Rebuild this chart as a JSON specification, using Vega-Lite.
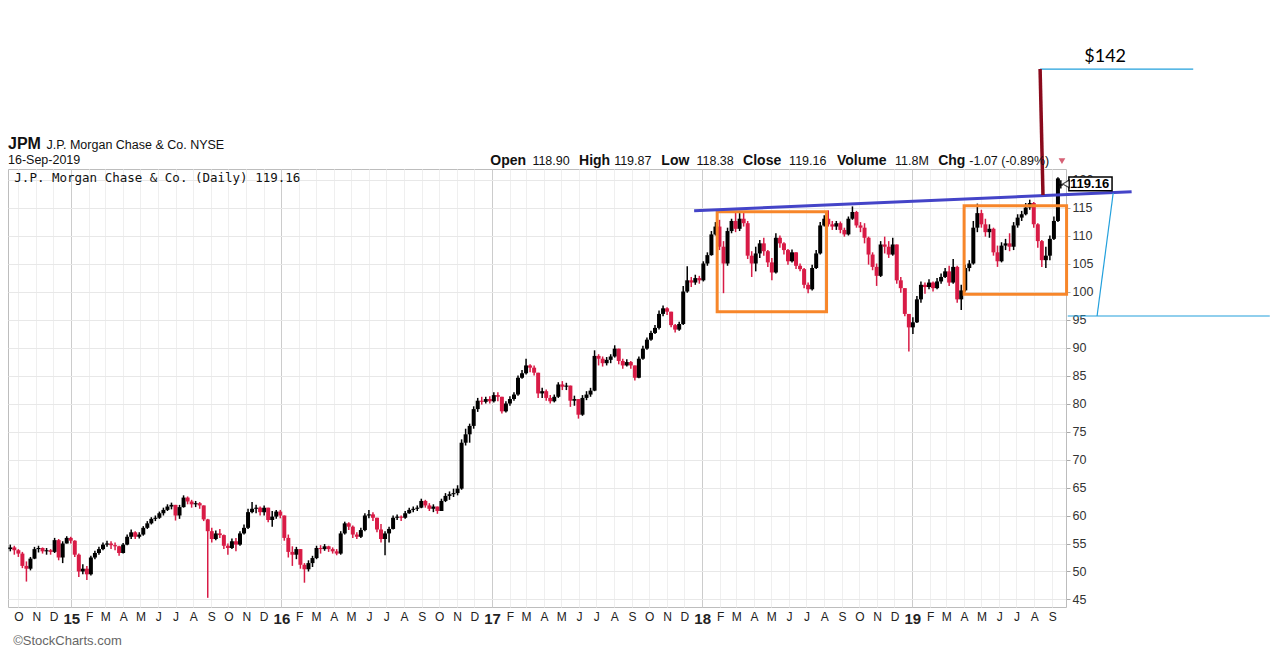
{
  "$schema": "https://vega.github.io/schema/vega-lite/v6.json",
  "width": 1058,
  "height": 438,
  "autosize": {"type": "none"},
  "padding": {"left": 8, "top": 169, "right": 208, "bottom": 56},
  "background": "white",
  "datasets": {
    "px": [
      {"d":"2014-09-17","o":54.0,"h":54.8,"l":53.6,"c":54.3},
      {"d":"2014-09-24","o":54.3,"h":54.6,"l":53.0,"c":53.8},
      {"d":"2014-10-01","o":53.8,"h":54.0,"l":52.6,"c":53.2},
      {"d":"2014-10-08","o":53.2,"h":53.5,"l":50.6,"c":51.0},
      {"d":"2014-10-15","o":51.0,"h":51.8,"l":48.2,"c":50.5},
      {"d":"2014-10-22","o":50.5,"h":52.6,"l":50.2,"c":52.3},
      {"d":"2014-10-29","o":52.3,"h":54.4,"l":52.2,"c":54.0},
      {"d":"2014-11-05","o":54.0,"h":54.6,"l":53.4,"c":54.2},
      {"d":"2014-11-12","o":54.2,"h":54.3,"l":53.2,"c":53.6},
      {"d":"2014-11-19","o":53.6,"h":54.2,"l":53.0,"c":53.8},
      {"d":"2014-11-26","o":53.8,"h":54.0,"l":53.0,"c":53.5},
      {"d":"2014-12-03","o":53.5,"h":56.0,"l":53.3,"c":55.6},
      {"d":"2014-12-10","o":55.6,"h":55.8,"l":52.0,"c":52.5},
      {"d":"2014-12-17","o":52.5,"h":55.4,"l":51.5,"c":55.0},
      {"d":"2014-12-24","o":55.0,"h":56.3,"l":55.0,"c":56.0},
      {"d":"2014-12-31","o":56.0,"h":56.2,"l":55.0,"c":55.5},
      {"d":"2015-01-07","o":55.5,"h":55.6,"l":52.6,"c":53.0},
      {"d":"2015-01-14","o":53.0,"h":53.2,"l":49.0,"c":50.0},
      {"d":"2015-01-21","o":50.0,"h":51.3,"l":49.5,"c":50.5},
      {"d":"2015-01-28","o":50.5,"h":51.0,"l":48.5,"c":49.5},
      {"d":"2015-02-04","o":49.5,"h":52.8,"l":49.3,"c":52.5},
      {"d":"2015-02-11","o":52.5,"h":53.7,"l":52.2,"c":53.3},
      {"d":"2015-02-18","o":53.3,"h":54.4,"l":53.0,"c":54.0},
      {"d":"2015-02-25","o":54.0,"h":55.2,"l":53.8,"c":54.8},
      {"d":"2015-03-04","o":54.8,"h":55.5,"l":54.4,"c":55.0},
      {"d":"2015-03-11","o":55.0,"h":55.4,"l":54.0,"c":54.7},
      {"d":"2015-03-18","o":54.7,"h":55.2,"l":53.8,"c":54.5},
      {"d":"2015-03-25","o":54.5,"h":54.6,"l":52.8,"c":53.3},
      {"d":"2015-04-01","o":53.3,"h":55.1,"l":53.2,"c":54.8},
      {"d":"2015-04-08","o":54.8,"h":56.6,"l":54.7,"c":56.2},
      {"d":"2015-04-15","o":56.2,"h":57.5,"l":55.8,"c":57.0},
      {"d":"2015-04-22","o":57.0,"h":57.2,"l":55.8,"c":56.2},
      {"d":"2015-04-29","o":56.2,"h":57.0,"l":55.9,"c":56.6},
      {"d":"2015-05-06","o":56.6,"h":58.1,"l":56.4,"c":57.8},
      {"d":"2015-05-13","o":57.8,"h":59.0,"l":57.6,"c":58.6},
      {"d":"2015-05-20","o":58.6,"h":59.7,"l":58.4,"c":59.4},
      {"d":"2015-05-27","o":59.4,"h":60.0,"l":59.0,"c":59.6},
      {"d":"2015-06-03","o":59.6,"h":60.7,"l":59.4,"c":60.4},
      {"d":"2015-06-10","o":60.4,"h":61.4,"l":60.0,"c":61.0},
      {"d":"2015-06-17","o":61.0,"h":62.0,"l":60.8,"c":61.6},
      {"d":"2015-06-24","o":61.6,"h":62.3,"l":61.1,"c":61.9},
      {"d":"2015-07-01","o":61.9,"h":61.9,"l":59.1,"c":60.0},
      {"d":"2015-07-08","o":60.0,"h":61.9,"l":59.4,"c":61.5},
      {"d":"2015-07-15","o":61.5,"h":63.6,"l":61.4,"c":63.2},
      {"d":"2015-07-22","o":63.2,"h":63.4,"l":62.0,"c":62.5},
      {"d":"2015-07-29","o":62.5,"h":62.8,"l":61.4,"c":62.0},
      {"d":"2015-08-05","o":62.0,"h":62.6,"l":61.5,"c":62.2},
      {"d":"2015-08-12","o":62.2,"h":62.4,"l":61.2,"c":61.8},
      {"d":"2015-08-19","o":61.8,"h":61.8,"l":59.0,"c":59.3},
      {"d":"2015-08-26","o":59.3,"h":59.4,"l":45.3,"c":57.2},
      {"d":"2015-09-02","o":57.2,"h":57.8,"l":55.2,"c":55.8},
      {"d":"2015-09-09","o":55.8,"h":57.3,"l":55.6,"c":56.8},
      {"d":"2015-09-16","o":56.8,"h":57.6,"l":56.0,"c":56.5},
      {"d":"2015-09-23","o":56.5,"h":56.6,"l":54.0,"c":54.6},
      {"d":"2015-09-30","o":54.6,"h":55.0,"l":53.0,"c":54.2},
      {"d":"2015-10-07","o":54.2,"h":55.9,"l":54.0,"c":55.4},
      {"d":"2015-10-14","o":55.4,"h":56.0,"l":53.6,"c":54.8},
      {"d":"2015-10-21","o":54.8,"h":57.2,"l":54.6,"c":56.8},
      {"d":"2015-10-28","o":56.8,"h":58.4,"l":56.6,"c":57.8},
      {"d":"2015-11-04","o":57.8,"h":61.2,"l":57.6,"c":60.6},
      {"d":"2015-11-11","o":60.6,"h":62.4,"l":60.4,"c":61.2},
      {"d":"2015-11-18","o":61.2,"h":61.9,"l":60.4,"c":61.4},
      {"d":"2015-11-25","o":61.4,"h":61.6,"l":60.0,"c":60.6},
      {"d":"2015-12-02","o":60.6,"h":61.8,"l":60.0,"c":61.4},
      {"d":"2015-12-09","o":61.4,"h":61.4,"l":58.8,"c":59.2},
      {"d":"2015-12-16","o":59.2,"h":60.8,"l":58.0,"c":59.8},
      {"d":"2015-12-23","o":59.8,"h":61.0,"l":59.4,"c":60.7},
      {"d":"2015-12-30","o":60.7,"h":61.0,"l":59.5,"c":60.0},
      {"d":"2016-01-06","o":60.0,"h":60.0,"l":55.5,"c":56.0},
      {"d":"2016-01-13","o":56.0,"h":56.6,"l":52.5,"c":53.5},
      {"d":"2016-01-20","o":53.5,"h":54.5,"l":51.0,"c":53.0},
      {"d":"2016-01-27","o":53.0,"h":54.4,"l":52.2,"c":54.0},
      {"d":"2016-02-03","o":54.0,"h":54.0,"l":50.5,"c":51.2},
      {"d":"2016-02-10","o":51.2,"h":51.5,"l":48.0,"c":50.4},
      {"d":"2016-02-17","o":50.4,"h":52.0,"l":50.0,"c":51.5},
      {"d":"2016-02-24","o":51.5,"h":52.8,"l":50.8,"c":52.4},
      {"d":"2016-03-02","o":52.4,"h":54.6,"l":52.2,"c":54.2},
      {"d":"2016-03-09","o":54.2,"h":54.7,"l":53.2,"c":54.0},
      {"d":"2016-03-16","o":54.0,"h":54.9,"l":53.7,"c":54.5},
      {"d":"2016-03-23","o":54.5,"h":54.6,"l":53.5,"c":54.0},
      {"d":"2016-03-30","o":54.0,"h":54.3,"l":53.2,"c":53.6},
      {"d":"2016-04-06","o":53.6,"h":54.0,"l":52.9,"c":53.2},
      {"d":"2016-04-13","o":53.2,"h":57.2,"l":53.0,"c":56.8},
      {"d":"2016-04-20","o":56.8,"h":58.9,"l":56.6,"c":58.6},
      {"d":"2016-04-27","o":58.6,"h":58.8,"l":57.4,"c":58.0},
      {"d":"2016-05-04","o":58.0,"h":58.2,"l":56.0,"c":56.6},
      {"d":"2016-05-11","o":56.6,"h":57.0,"l":55.8,"c":56.2},
      {"d":"2016-05-18","o":56.2,"h":57.8,"l":56.0,"c":57.4},
      {"d":"2016-05-25","o":57.4,"h":60.4,"l":57.2,"c":60.0},
      {"d":"2016-06-01","o":60.0,"h":61.0,"l":59.5,"c":60.2},
      {"d":"2016-06-08","o":60.2,"h":60.6,"l":59.0,"c":59.6},
      {"d":"2016-06-15","o":59.6,"h":59.6,"l":57.0,"c":57.5},
      {"d":"2016-06-22","o":57.5,"h":58.5,"l":55.2,"c":55.8},
      {"d":"2016-06-29","o":55.8,"h":57.2,"l":52.9,"c":56.8},
      {"d":"2016-07-06","o":56.8,"h":58.0,"l":55.2,"c":57.6},
      {"d":"2016-07-13","o":57.6,"h":60.0,"l":57.5,"c":59.6},
      {"d":"2016-07-20","o":59.6,"h":60.2,"l":59.2,"c":59.8},
      {"d":"2016-07-27","o":59.8,"h":60.0,"l":59.0,"c":59.6},
      {"d":"2016-08-03","o":59.6,"h":60.8,"l":59.4,"c":60.4},
      {"d":"2016-08-10","o":60.4,"h":61.4,"l":60.3,"c":61.0},
      {"d":"2016-08-17","o":61.0,"h":61.6,"l":60.6,"c":61.2},
      {"d":"2016-08-24","o":61.2,"h":61.8,"l":60.8,"c":61.4},
      {"d":"2016-08-31","o":61.4,"h":63.0,"l":61.3,"c":62.6},
      {"d":"2016-09-07","o":62.6,"h":62.8,"l":61.4,"c":61.8},
      {"d":"2016-09-14","o":61.8,"h":62.2,"l":60.8,"c":61.2},
      {"d":"2016-09-21","o":61.2,"h":62.0,"l":60.6,"c":61.6},
      {"d":"2016-09-28","o":61.6,"h":61.6,"l":60.3,"c":60.8},
      {"d":"2016-10-05","o":60.8,"h":63.0,"l":60.8,"c":62.6},
      {"d":"2016-10-12","o":62.6,"h":64.0,"l":62.4,"c":63.5},
      {"d":"2016-10-19","o":63.5,"h":64.3,"l":62.8,"c":63.8},
      {"d":"2016-10-26","o":63.8,"h":64.8,"l":63.3,"c":64.0},
      {"d":"2016-11-02","o":64.0,"h":65.4,"l":63.6,"c":64.8},
      {"d":"2016-11-09","o":64.8,"h":73.6,"l":64.6,"c":73.0},
      {"d":"2016-11-16","o":73.0,"h":75.5,"l":72.5,"c":74.5},
      {"d":"2016-11-23","o":74.5,"h":76.4,"l":73.0,"c":76.0},
      {"d":"2016-11-30","o":76.0,"h":79.5,"l":75.5,"c":79.0},
      {"d":"2016-12-07","o":79.0,"h":81.0,"l":78.5,"c":80.5},
      {"d":"2016-12-14","o":80.5,"h":81.2,"l":79.8,"c":80.3},
      {"d":"2016-12-21","o":80.3,"h":81.2,"l":80.0,"c":80.8},
      {"d":"2016-12-28","o":80.8,"h":81.3,"l":80.0,"c":80.4},
      {"d":"2017-01-04","o":80.4,"h":82.0,"l":80.2,"c":81.5},
      {"d":"2017-01-11","o":81.5,"h":82.0,"l":80.4,"c":81.2},
      {"d":"2017-01-18","o":81.2,"h":81.2,"l":78.2,"c":78.6},
      {"d":"2017-01-25","o":78.6,"h":80.4,"l":78.4,"c":80.0},
      {"d":"2017-02-01","o":80.0,"h":81.3,"l":79.6,"c":80.8},
      {"d":"2017-02-08","o":80.8,"h":82.0,"l":80.5,"c":81.6},
      {"d":"2017-02-15","o":81.6,"h":85.0,"l":81.4,"c":84.6},
      {"d":"2017-02-22","o":84.6,"h":86.0,"l":84.4,"c":85.4},
      {"d":"2017-03-01","o":85.4,"h":88.0,"l":85.2,"c":86.8},
      {"d":"2017-03-08","o":86.8,"h":87.0,"l":85.6,"c":86.4},
      {"d":"2017-03-15","o":86.4,"h":86.8,"l":85.0,"c":85.5},
      {"d":"2017-03-22","o":85.5,"h":85.5,"l":81.0,"c":81.8},
      {"d":"2017-03-29","o":81.8,"h":82.8,"l":81.0,"c":82.2},
      {"d":"2017-04-05","o":82.2,"h":82.5,"l":80.5,"c":81.0},
      {"d":"2017-04-12","o":81.0,"h":81.5,"l":80.0,"c":80.4},
      {"d":"2017-04-19","o":80.4,"h":81.6,"l":80.2,"c":81.2},
      {"d":"2017-04-26","o":81.2,"h":83.8,"l":81.0,"c":83.4},
      {"d":"2017-05-03","o":83.4,"h":84.0,"l":82.4,"c":83.0},
      {"d":"2017-05-10","o":83.0,"h":83.7,"l":82.4,"c":83.2},
      {"d":"2017-05-17","o":83.2,"h":83.2,"l":79.4,"c":80.5},
      {"d":"2017-05-24","o":80.5,"h":81.4,"l":79.6,"c":80.8},
      {"d":"2017-05-31","o":80.8,"h":80.8,"l":77.3,"c":78.0},
      {"d":"2017-06-07","o":78.0,"h":81.5,"l":77.8,"c":81.0},
      {"d":"2017-06-14","o":81.0,"h":82.2,"l":80.6,"c":81.6},
      {"d":"2017-06-21","o":81.6,"h":82.8,"l":81.2,"c":82.3},
      {"d":"2017-06-28","o":82.3,"h":89.5,"l":82.2,"c":88.5},
      {"d":"2017-07-05","o":88.5,"h":88.8,"l":86.8,"c":88.0},
      {"d":"2017-07-12","o":88.0,"h":88.4,"l":86.6,"c":87.2},
      {"d":"2017-07-19","o":87.2,"h":88.3,"l":86.8,"c":87.8},
      {"d":"2017-07-26","o":87.8,"h":88.8,"l":87.2,"c":88.4},
      {"d":"2017-08-02","o":88.4,"h":90.4,"l":88.2,"c":89.8},
      {"d":"2017-08-09","o":89.8,"h":89.8,"l":87.0,"c":87.6},
      {"d":"2017-08-16","o":87.6,"h":88.0,"l":86.2,"c":86.8},
      {"d":"2017-08-23","o":86.8,"h":87.9,"l":86.6,"c":87.4},
      {"d":"2017-08-30","o":87.4,"h":87.6,"l":86.2,"c":86.8},
      {"d":"2017-09-06","o":86.8,"h":86.8,"l":84.1,"c":84.6},
      {"d":"2017-09-13","o":84.6,"h":88.4,"l":84.5,"c":88.0},
      {"d":"2017-09-20","o":88.0,"h":90.3,"l":87.8,"c":89.8},
      {"d":"2017-09-27","o":89.8,"h":91.8,"l":89.6,"c":91.4},
      {"d":"2017-10-04","o":91.4,"h":93.0,"l":91.2,"c":92.6},
      {"d":"2017-10-11","o":92.6,"h":94.0,"l":92.4,"c":93.5},
      {"d":"2017-10-18","o":93.5,"h":96.6,"l":93.2,"c":96.0},
      {"d":"2017-10-25","o":96.0,"h":97.5,"l":95.6,"c":97.0},
      {"d":"2017-11-01","o":97.0,"h":97.2,"l":95.8,"c":96.4},
      {"d":"2017-11-08","o":96.4,"h":96.4,"l":93.6,"c":94.0},
      {"d":"2017-11-15","o":94.0,"h":94.2,"l":92.7,"c":93.2},
      {"d":"2017-11-22","o":93.2,"h":94.6,"l":93.0,"c":94.2},
      {"d":"2017-11-29","o":94.2,"h":101.0,"l":94.0,"c":100.0},
      {"d":"2017-12-06","o":100.0,"h":104.5,"l":99.8,"c":102.0},
      {"d":"2017-12-13","o":102.0,"h":102.6,"l":100.8,"c":101.6},
      {"d":"2017-12-20","o":101.6,"h":103.0,"l":101.2,"c":102.4},
      {"d":"2017-12-27","o":102.4,"h":102.8,"l":101.4,"c":102.0},
      {"d":"2018-01-03","o":102.0,"h":105.4,"l":101.8,"c":105.0},
      {"d":"2018-01-10","o":105.0,"h":107.0,"l":104.6,"c":106.5},
      {"d":"2018-01-17","o":106.5,"h":110.8,"l":106.4,"c":110.2},
      {"d":"2018-01-24","o":110.2,"h":112.4,"l":110.0,"c":111.6},
      {"d":"2018-01-31","o":111.6,"h":112.8,"l":107.4,"c":108.0},
      {"d":"2018-02-07","o":108.0,"h":109.0,"l":99.7,"c":105.0},
      {"d":"2018-02-14","o":105.0,"h":111.4,"l":104.6,"c":110.8},
      {"d":"2018-02-21","o":110.8,"h":113.0,"l":110.4,"c":112.6},
      {"d":"2018-02-28","o":112.6,"h":114.3,"l":110.6,"c":111.2},
      {"d":"2018-03-07","o":111.2,"h":114.0,"l":110.8,"c":113.0},
      {"d":"2018-03-14","o":113.0,"h":114.3,"l":111.6,"c":112.2},
      {"d":"2018-03-21","o":112.2,"h":112.6,"l":105.8,"c":106.4},
      {"d":"2018-03-28","o":106.4,"h":107.2,"l":102.6,"c":105.0},
      {"d":"2018-04-04","o":105.0,"h":108.0,"l":103.6,"c":106.8},
      {"d":"2018-04-11","o":106.8,"h":109.2,"l":106.0,"c":108.6},
      {"d":"2018-04-18","o":108.6,"h":109.6,"l":106.4,"c":107.2},
      {"d":"2018-04-25","o":107.2,"h":107.4,"l":104.4,"c":105.2},
      {"d":"2018-05-02","o":105.2,"h":106.0,"l":102.0,"c":103.4},
      {"d":"2018-05-09","o":103.4,"h":110.4,"l":103.2,"c":109.6},
      {"d":"2018-05-16","o":109.6,"h":110.0,"l":107.8,"c":108.6},
      {"d":"2018-05-23","o":108.6,"h":108.8,"l":106.6,"c":107.4},
      {"d":"2018-05-30","o":107.4,"h":107.6,"l":104.8,"c":105.4},
      {"d":"2018-06-06","o":105.4,"h":107.5,"l":105.2,"c":107.0},
      {"d":"2018-06-13","o":107.0,"h":107.0,"l":104.0,"c":104.6},
      {"d":"2018-06-20","o":104.6,"h":105.0,"l":103.6,"c":104.0},
      {"d":"2018-06-27","o":104.0,"h":104.2,"l":100.6,"c":101.2},
      {"d":"2018-07-04","o":101.2,"h":101.6,"l":99.7,"c":100.4},
      {"d":"2018-07-11","o":100.4,"h":104.8,"l":100.2,"c":104.2},
      {"d":"2018-07-18","o":104.2,"h":107.4,"l":104.0,"c":106.8},
      {"d":"2018-07-25","o":106.8,"h":112.4,"l":106.6,"c":111.8},
      {"d":"2018-08-01","o":111.8,"h":113.6,"l":111.6,"c":113.0},
      {"d":"2018-08-08","o":113.0,"h":114.5,"l":111.6,"c":112.0},
      {"d":"2018-08-15","o":112.0,"h":112.6,"l":111.0,"c":111.6},
      {"d":"2018-08-22","o":111.6,"h":112.6,"l":111.0,"c":112.2},
      {"d":"2018-08-29","o":112.2,"h":112.5,"l":110.4,"c":111.0},
      {"d":"2018-09-05","o":111.0,"h":111.4,"l":109.8,"c":110.2},
      {"d":"2018-09-12","o":110.2,"h":113.4,"l":110.0,"c":113.0},
      {"d":"2018-09-19","o":113.0,"h":115.2,"l":112.8,"c":114.2},
      {"d":"2018-09-26","o":114.2,"h":114.4,"l":111.4,"c":111.8},
      {"d":"2018-10-03","o":111.8,"h":112.4,"l":110.6,"c":111.4},
      {"d":"2018-10-10","o":111.4,"h":112.2,"l":108.6,"c":109.6},
      {"d":"2018-10-17","o":109.6,"h":109.8,"l":104.8,"c":106.6},
      {"d":"2018-10-24","o":106.6,"h":107.0,"l":103.8,"c":104.4},
      {"d":"2018-10-31","o":104.4,"h":105.0,"l":101.0,"c":102.8},
      {"d":"2018-11-07","o":102.8,"h":109.0,"l":102.6,"c":108.4},
      {"d":"2018-11-14","o":108.4,"h":109.8,"l":106.8,"c":108.0},
      {"d":"2018-11-21","o":108.0,"h":109.0,"l":106.0,"c":106.6},
      {"d":"2018-11-28","o":106.6,"h":109.6,"l":106.4,"c":108.4},
      {"d":"2018-12-05","o":108.4,"h":108.4,"l":101.4,"c":102.0},
      {"d":"2018-12-12","o":102.0,"h":102.6,"l":99.8,"c":100.6},
      {"d":"2018-12-19","o":100.6,"h":100.6,"l":95.6,"c":96.0},
      {"d":"2018-12-26","o":96.0,"h":96.0,"l":89.3,"c":93.6},
      {"d":"2019-01-02","o":93.6,"h":95.4,"l":92.4,"c":94.5},
      {"d":"2019-01-09","o":94.5,"h":99.2,"l":94.4,"c":98.6},
      {"d":"2019-01-16","o":98.6,"h":101.8,"l":98.0,"c":101.2},
      {"d":"2019-01-23","o":101.2,"h":101.6,"l":99.6,"c":100.8},
      {"d":"2019-01-30","o":100.8,"h":102.2,"l":100.4,"c":101.6},
      {"d":"2019-02-06","o":101.6,"h":101.8,"l":100.0,"c":100.6},
      {"d":"2019-02-13","o":100.6,"h":102.4,"l":100.4,"c":101.8},
      {"d":"2019-02-20","o":101.8,"h":103.2,"l":101.4,"c":102.6},
      {"d":"2019-02-27","o":102.6,"h":104.2,"l":102.4,"c":103.6},
      {"d":"2019-03-06","o":103.6,"h":104.6,"l":101.0,"c":101.6},
      {"d":"2019-03-13","o":101.6,"h":105.8,"l":101.4,"c":104.4},
      {"d":"2019-03-20","o":104.4,"h":104.6,"l":98.0,"c":98.6},
      {"d":"2019-03-27","o":98.6,"h":101.2,"l":96.7,"c":100.2},
      {"d":"2019-04-03","o":100.2,"h":104.8,"l":100.0,"c":104.2},
      {"d":"2019-04-10","o":104.2,"h":105.6,"l":103.6,"c":105.0},
      {"d":"2019-04-17","o":105.0,"h":112.6,"l":104.8,"c":111.4},
      {"d":"2019-04-24","o":111.4,"h":115.7,"l":110.6,"c":114.0},
      {"d":"2019-05-01","o":114.0,"h":114.6,"l":111.4,"c":112.0},
      {"d":"2019-05-08","o":112.0,"h":113.0,"l":109.8,"c":110.6},
      {"d":"2019-05-15","o":110.6,"h":112.0,"l":109.6,"c":111.2},
      {"d":"2019-05-22","o":111.2,"h":111.4,"l":106.4,"c":107.0},
      {"d":"2019-05-29","o":107.0,"h":108.2,"l":104.4,"c":105.4},
      {"d":"2019-06-05","o":105.4,"h":108.8,"l":105.2,"c":108.2},
      {"d":"2019-06-12","o":108.2,"h":109.4,"l":107.4,"c":108.6},
      {"d":"2019-06-19","o":108.6,"h":110.4,"l":107.2,"c":108.0},
      {"d":"2019-06-26","o":108.0,"h":112.4,"l":107.4,"c":111.8},
      {"d":"2019-07-03","o":111.8,"h":113.8,"l":111.4,"c":113.2},
      {"d":"2019-07-10","o":113.2,"h":114.4,"l":112.6,"c":113.8},
      {"d":"2019-07-17","o":113.8,"h":115.8,"l":113.6,"c":115.0},
      {"d":"2019-07-24","o":115.0,"h":116.4,"l":114.6,"c":115.8},
      {"d":"2019-07-31","o":115.8,"h":116.0,"l":111.4,"c":112.0},
      {"d":"2019-08-07","o":112.0,"h":112.2,"l":107.8,"c":109.0},
      {"d":"2019-08-14","o":109.0,"h":109.2,"l":104.4,"c":105.6},
      {"d":"2019-08-21","o":105.6,"h":108.0,"l":104.2,"c":106.4},
      {"d":"2019-08-28","o":106.4,"h":110.0,"l":105.6,"c":109.4},
      {"d":"2019-09-04","o":109.4,"h":113.4,"l":109.2,"c":112.6},
      {"d":"2019-09-11","o":112.6,"h":120.4,"l":112.4,"c":120.2},
      {"d":"2019-09-16","o":118.9,"h":119.87,"l":118.38,"c":119.16}
    ]
  },
  "encoding": {
    "x": {
      "field": "d",
      "type": "temporal",
      "title": null,
      "scale": {
        "type": "utc",
        "nice": false,
        "padding": 0,
        "domain": [
          {"year": 2014, "month": 9, "date": 13, "utc": true},
          {"year": 2019, "month": 9, "date": 25, "utc": true}
        ]
      },
      "axis": {
        "tickCount": {"interval": "month", "step": 1},
        "labelExpr": "utcmonth(datum.value) == 0 ? utcFormat(datum.value, '%y') : slice(utcFormat(datum.value, '%b'), 0, 1)",
        "labelFont": "Liberation Sans",
        "labelFontSize": {"condition": {"test": "utcmonth(datum.value) == 0", "value": 15}, "value": 12},
        "labelFontWeight": {"condition": {"test": "utcmonth(datum.value) == 0", "value": "bold"}, "value": "normal"},
        "labelColor": "#222222",
        "labelPadding": 4,
        "labelOverlap": false,
        "labelFlush": false,
        "labelAlign": "center",
        "ticks": false,
        "domain": false,
        "grid": true,
        "gridColor": {"condition": {"test": "utcmonth(datum.value) == 0", "value": "#cccccc"}, "value": "#efefef"}
      }
    },
    "y": {
      "field": "p",
      "type": "quantitative",
      "title": null,
      "scale": {"domain": [43.66, 121.88], "nice": false, "zero": false, "padding": 0},
      "axis": {
        "orient": "right",
        "values": [45, 50, 55, 60, 65, 70, 75, 80, 85, 90, 95, 100, 105, 110, 115, 120],
        "labelFont": "Liberation Sans",
        "labelFontSize": 12.5,
        "labelColor": "#333333",
        "tickSize": 4,
        "tickColor": "#aaaaaa",
        "labelPadding": 2,
        "domain": false,
        "grid": true,
        "gridColor": "#e8e8e8"
      }
    }
  },
  "layer": [
    {
      "data": {"name": "px"},
      "mark": {"type": "rule", "strokeWidth": 1.5},
      "encoding": {
        "y": {
          "field": "l",
          "type": "quantitative",
          "title": null,
          "scale": {"domain": [43.66, 121.88], "nice": false, "zero": false, "padding": 0},
          "axis": {
            "orient": "right",
            "values": [45, 50, 55, 60, 65, 70, 75, 80, 85, 90, 95, 100, 105, 110, 115, 120],
            "labelFont": "Liberation Sans",
            "labelFontSize": 12.5,
            "labelColor": "#333333",
            "tickSize": 4,
            "tickColor": "#aaaaaa",
            "labelPadding": 2,
            "domain": false,
            "grid": true,
            "gridColor": "#e8e8e8"
          }
        },
        "y2": {"field": "h"},
        "color": {"condition": {"test": "datum.c >= datum.o", "value": "#000000"}, "value": "#d81b46"}
      }
    },
    {
      "data": {"name": "px"},
      "mark": {"type": "bar", "size": 4},
      "encoding": {
        "y": {
          "field": "o",
          "type": "quantitative",
          "title": null,
          "scale": {"domain": [43.66, 121.88], "nice": false, "zero": false, "padding": 0},
          "axis": {
            "orient": "right",
            "values": [45, 50, 55, 60, 65, 70, 75, 80, 85, 90, 95, 100, 105, 110, 115, 120],
            "labelFont": "Liberation Sans",
            "labelFontSize": 12.5,
            "labelColor": "#333333",
            "tickSize": 4,
            "tickColor": "#aaaaaa",
            "labelPadding": 2,
            "domain": false,
            "grid": true,
            "gridColor": "#e8e8e8"
          }
        },
        "y2": {"field": "c"},
        "color": {"condition": {"test": "datum.c >= datum.o", "value": "#000000"}, "value": "#d81b46"}
      }
    },
    {
      "data": {"values": [
        {"d": "2018-01-27", "d2": "2018-08-05", "p": 114.25, "p2": 96.4},
        {"d": "2019-04-01", "d2": "2019-09-26", "p": 115.3, "p2": 99.5}
      ]},
      "mark": {"type": "rect", "filled": false, "color": "#f7862a", "strokeWidth": 3},
      "encoding": {"x2": {"field": "d2"}, "y2": {"field": "p2"}}
    },
    {
      "data": {"values": [
        {"d": "2017-12-18", "d2": "2020-01-17", "p": 114.43, "p2": 117.82}
      ]},
      "mark": {"type": "rule", "color": "#4444c8", "strokeWidth": 3},
      "encoding": {"x2": {"field": "d2"}, "y2": {"field": "p2"}}
    },
    {
      "data": {"values": [
        {"d": "2019-08-11", "d2": "2020-05-03", "p": 139.73, "p2": 139.73},
        {"d": "2019-12-16", "d2": "2019-11-18", "p": 117.59, "p2": 95.63},
        {"d": "2019-09-28", "d2": "2020-09-13", "p": 95.63, "p2": 95.63}
      ]},
      "mark": {"type": "rule", "color": "#22a0dc", "strokeWidth": 1.2},
      "encoding": {"x2": {"field": "d2"}, "y2": {"field": "p2"}}
    },
    {
      "data": {"values": [
        {"d": "2019-08-11", "d2": "2019-08-16", "p": 139.73, "p2": 117.23}
      ]},
      "mark": {"type": "rule", "color": "#8a0a1c", "strokeWidth": 3.5},
      "encoding": {"x2": {"field": "d2"}, "y2": {"field": "p2"}}
    },
    {
      "data": {"values": [{"d": "2014-09-13", "p": 126.3, "t": "JPM"}]},
      "mark": {"type": "text", "font": "Liberation Sans", "fontSize": 16, "fontWeight": "bold", "align": "left", "baseline": "middle", "color": "#111111"},
      "encoding": {"text": {"field": "t"}}
    },
    {
      "data": {"values": [
        {"d": "2014-11-19", "p": 126.2, "t": "J.P. Morgan Chase & Co. NYSE"},
        {"d": "2014-09-13", "p": 123.4, "t": "16-Sep-2019"},
        {"d": "2017-03-12", "p": 123.3, "t": "118.90"},
        {"d": "2017-08-01", "p": 123.3, "t": "119.87"},
        {"d": "2017-12-22", "p": 123.3, "t": "118.38"},
        {"d": "2018-06-01", "p": 123.3, "t": "119.16"},
        {"d": "2018-12-02", "p": 123.3, "t": "11.8M"},
        {"d": "2019-04-10", "p": 123.3, "t": "-1.07 (-0.89%)"}
      ]},
      "mark": {"type": "text", "font": "Liberation Sans", "fontSize": 12.5, "align": "left", "baseline": "middle", "color": "#111111"},
      "encoding": {"text": {"field": "t"}}
    },
    {
      "data": {"values": [
        {"d": "2016-12-29", "p": 123.3, "t": "Open"},
        {"d": "2017-06-01", "p": 123.3, "t": "High"},
        {"d": "2017-10-22", "p": 123.3, "t": "Low"},
        {"d": "2018-03-13", "p": 123.3, "t": "Close"},
        {"d": "2018-08-23", "p": 123.3, "t": "Volume"},
        {"d": "2019-02-15", "p": 123.3, "t": "Chg"}
      ]},
      "mark": {"type": "text", "font": "Liberation Sans", "fontSize": 14, "fontWeight": "bold", "align": "left", "baseline": "middle", "color": "#111111"},
      "encoding": {"text": {"field": "t"}}
    },
    {
      "data": {"values": [{"d": "2019-09-18", "p": 123.3}]},
      "mark": {"type": "point", "shape": "triangle-down", "filled": true, "size": 45, "color": "#c41e3a"},
      "encoding": {}
    },
    {
      "data": {"values": [{"d": "2014-09-24", "p": 120.27, "t": "J.P. Morgan Chase & Co. (Daily) 119.16"}]},
      "mark": {"type": "text", "font": "DejaVu Sans Mono", "fontSize": 12.5, "align": "left", "baseline": "middle", "color": "#111111"},
      "encoding": {"text": {"field": "t"}}
    },
    {
      "data": {"values": [{"d": "2014-09-22", "p": 37.6, "t": "©StockCharts.com"}]},
      "mark": {"type": "text", "font": "Liberation Sans", "fontSize": 13, "align": "left", "baseline": "middle", "color": "#666666"},
      "encoding": {"text": {"field": "t"}}
    },
    {
      "data": {"values": [{"d": "2019-12-02", "p": 141.9, "t": "$142"}]},
      "mark": {"type": "text", "font": "Lato", "fontSize": 18, "align": "center", "baseline": "middle", "color": "#000000"},
      "encoding": {"text": {"field": "t"}}
    },
    {
      "data": {"values": [{"d": "2019-09-30", "d2": "2019-12-14", "p": 118.0, "p2": 120.45}]},
      "mark": {"type": "rect", "fill": "#ffffff", "stroke": "#000000", "strokeWidth": 1.5},
      "encoding": {"x2": {"field": "d2"}, "y2": {"field": "p2"}}
    },
    {
      "data": {"values": [{"d": "2019-09-25", "p": 119.22}]},
      "mark": {"type": "point", "shape": "triangle-left", "filled": true, "size": 60, "fill": "#ffffff", "stroke": "#000000", "strokeWidth": 1.2},
      "encoding": {}
    },
    {
      "data": {"values": [{"d": "2019-11-05", "p": 119.2, "t": "119.16"}]},
      "mark": {"type": "text", "font": "Liberation Sans", "fontSize": 13, "fontWeight": "bold", "align": "center", "baseline": "middle", "color": "#000000"},
      "encoding": {"text": {"field": "t"}}
    }
  ],
  "config": {
    "view": {"stroke": "#bdbdbd", "strokeWidth": 1}
  }
}
